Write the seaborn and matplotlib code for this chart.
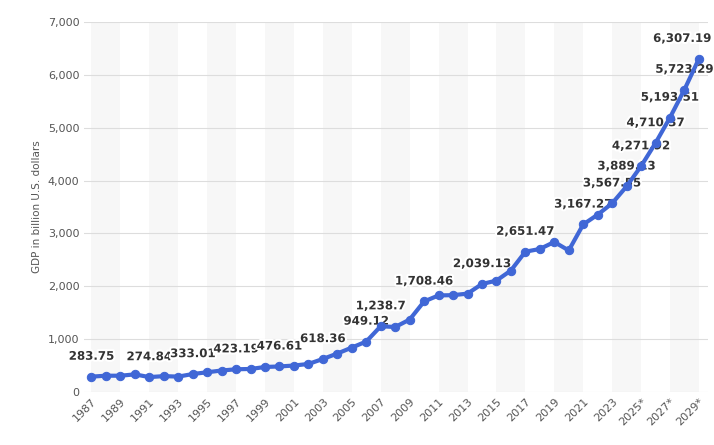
import matplotlib
matplotlib.use("Agg")
import matplotlib.pyplot as plt
import matplotlib.patheffects as pe
import seaborn as sns
import pandas as pd

years = list(range(1987, 2030))
gdp = [283.75, 301.2, 301.0, 326.6, 274.84, 293.3, 284.2, 333.01, 366.6, 399.8,
       423.19, 428.8, 466.8, 476.61, 493.9, 523.8, 618.36, 721.6, 834.2, 949.12,
       1238.7, 1224.1, 1365.4, 1708.46, 1823.1, 1827.6, 1856.7, 2039.13, 2103.6, 2294.8,
       2651.47, 2702.9, 2835.6, 2674.9, 3167.27, 3353.5, 3567.55, 3889.13, 4271.92, 4710.37,
       5193.51, 5723.29, 6307.19]
labeled_years = [1987, 1991, 1994, 1997, 2000, 2003, 2006, 2007, 2010, 2014, 2017, 2021,
                 2023, 2024, 2025, 2026, 2027, 2028, 2029]
tick_years = list(range(1987, 2030, 2))
tick_labels = [str(y) + ("*" if y >= 2025 else "") for y in tick_years]

df = pd.DataFrame({"year": years, "gdp": gdp})

fig = plt.figure(figsize=(7.14, 4.45), dpi=100)
ax = fig.add_axes([0.118, 0.12, 0.873, 0.83])
for s in range(1987, 2030, 4):
    ax.axvspan(s, s + 2, color="#f7f7f7", zorder=0, lw=0)
for v in range(0, 7001, 1000):
    ax.axhline(v, color="#dddddd", lw=0.8, zorder=1)

sns.lineplot(data=df, x="year", y="gdp", ax=ax, color="#4067d6", lw=3,
             marker="o", markersize=6, markeredgecolor="#4067d6", zorder=5)

for y, v in zip(years, gdp):
    if y in labeled_years:
        txt = f"{v:,.2f}".rstrip("0").rstrip(".") if y == 2007 else f"{v:,.2f}"
        dx = -12 if y == 2029 else 0
        t = ax.annotate(txt, (y, v), xytext=(dx, 10), textcoords="offset points",
                        ha="center", va="bottom", fontsize=8.5, fontweight="bold",
                        color="#333333", zorder=3)
        t.set_path_effects([pe.withStroke(linewidth=3, foreground="white")])

ax.set_xlim(1986.5, 2029.6)
ax.set_ylim(0, 7000)
ax.set_xticks(tick_years)
ax.set_xticklabels(tick_labels, rotation=45, ha="right", rotation_mode="anchor", fontsize=8, color="#555555")
ax.set_yticks(range(0, 7001, 1000))
ax.set_yticklabels([f"{v:,}" for v in range(0, 7001, 1000)], fontsize=8, color="#555555")
ax.set_xlabel("")
ax.set_ylabel("GDP in billion U.S. dollars", fontsize=7.5, color="#555555")
ax.tick_params(length=0)
for sp in ax.spines.values():
    sp.set_visible(False)

fig.savefig("out.png", dpi=100)
